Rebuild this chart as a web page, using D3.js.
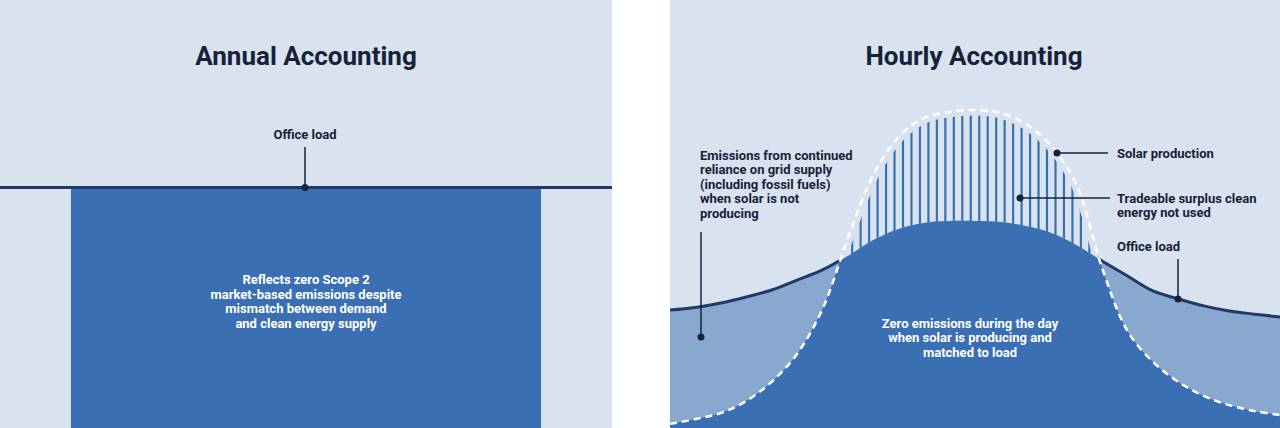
<!DOCTYPE html>
<html><head><meta charset="utf-8">
<script src="https://cdn.jsdelivr.net/npm/d3@7"></script>
<style>
body{margin:0;background:#fff}
svg{display:block}
text{font-family:Roboto,"Open Sans",sans-serif;font-weight:700}
</style>
</head><body>
<svg id="chart" width="1280" height="428"></svg>
<script>
// ---- data ----
const panelTitles = ["Annual Accounting", "Hourly Accounting"];
const annualCategories = ["Year"];
const annualLoad = [75.6];
const hours = d3.range(0, 25);
const solarProduction = [1.3, 2.8, 4.7, 8.5, 14.5, 23.3, 37.4, 59.7, 79.6, 91.5, 97.5, 99.4, 100,
  99.1, 95.6, 88.7, 76.4, 50.3, 30.5, 20.8, 14.5, 10.1, 7.2, 5.3, 4.1];
const officeLoad = [37.1, 37.9, 39.3, 41.2, 43.4, 46.5, 49.7, 54.1, 59.1, 62.6, 64.5, 65.1, 65.1,
  64.8, 63.5, 61.3, 57.5, 52.5, 47.8, 43.1, 40.6, 38.4, 36.8, 35.8, 34.9];
const annualLoadLabel = ["Office load"];
const annualNote = ["Reflects zero Scope 2", "market-based emissions despite", "mismatch between demand", "and clean energy supply"];
const gridNote = ["Emissions from continued", "reliance on grid supply", "(including fossil fuels)", "when solar is not", "producing"];
const solarLabel = ["Solar production"];
const surplusLabel = ["Tradeable surplus clean", "energy not used"];
const hourlyLoadLabel = ["Office load"];
const zeroNote = ["Zero emissions during the day", "when solar is producing and", "matched to load"];

// ---- style ----
const BG = "#d8e3ef", DARK = "#3a70b3", MID = "#88a8d0", NAVY = "#1f3a68", INK = "#17213a";
const H = 428;
const svg = d3.select("#chart");

const y = d3.scaleLinear().domain([0, 100]).range([H, 110]);

// ---------- left panel ----------
const L = svg.append("g");
const xL = d3.scaleBand().domain(annualCategories).range([0, 612]).paddingOuter(0.151).paddingInner(0);
L.append("rect").attr("x", 0).attr("y", 0).attr("width", 612).attr("height", H).attr("fill", BG);
L.selectAll("rect.bar").data(annualCategories).join("rect").attr("class", "bar")
  .attr("x", d => xL(d)).attr("width", xL.bandwidth())
  .attr("y", (d, i) => y(annualLoad[i])).attr("height", (d, i) => H - y(annualLoad[i]))
  .attr("fill", DARK);
L.append("line").attr("x1", 0).attr("x2", 612).attr("y1", y(annualLoad[0])).attr("y2", y(annualLoad[0]))
  .attr("stroke", NAVY).attr("stroke-width", 3);
L.append("text").attr("x", 306).attr("y", 65).attr("text-anchor", "middle").attr("font-size", 26)
  .attr("fill", INK).text(panelTitles[0]);
L.append("text").attr("x", 305).attr("y", 139).attr("text-anchor", "middle").attr("font-size", 13)
  .attr("fill", INK).text(annualLoadLabel[0]);
L.append("line").attr("x1", 305).attr("x2", 305).attr("y1", 147).attr("y2", y(annualLoad[0]))
  .attr("stroke", INK).attr("stroke-width", 1.5);
L.append("circle").attr("cx", 305).attr("cy", y(annualLoad[0])).attr("r", 3.5).attr("fill", INK);
L.append("text").attr("text-anchor", "middle").attr("font-size", 13).attr("fill", "#fff")
  .selectAll("tspan").data(annualNote).join("tspan")
  .attr("x", 306).attr("y", (d, i) => 284 + i * 14.7).text(d => d);

// ---------- right panel ----------
const R = svg.append("g");
const x = d3.scaleLinear().domain([0, 24]).range([670, 1280]);
R.append("rect").attr("x", 670).attr("y", 0).attr("width", 610).attr("height", H).attr("fill", BG);

const curve = d3.curveCatmullRom.alpha(0.5);
const solarArea = d3.area().x((d, i) => x(hours[i])).y0(H).y1(d => y(d)).curve(curve);
const aboveSolar = d3.area().x((d, i) => x(hours[i])).y0(0).y1(d => y(d) + 1).curve(curve);
const solarLine = d3.line().x((d, i) => x(hours[i])).y(d => y(d)).curve(curve);
const loadArea = d3.area().x((d, i) => x(hours[i])).y0(H).y1(d => y(d)).curve(curve);
const loadLine = d3.line().x((d, i) => x(hours[i])).y(d => y(d)).curve(curve);

const defs = svg.append("defs");
defs.append("clipPath").attr("id", "solarClip").append("path").attr("d", solarArea(solarProduction));
defs.append("clipPath").attr("id", "aboveSolarClip").append("path").attr("d", aboveSolar(solarProduction));
defs.append("clipPath").attr("id", "loadClip").append("path").attr("d", loadArea(officeLoad));

// surplus stripes
const stripeHours = d3.range(6.5, 17.7, 1 / 3);
R.append("g").attr("clip-path", "url(#solarClip)")
  .selectAll("line").data(stripeHours).join("line")
  .attr("x1", d => x(d)).attr("x2", d => x(d)).attr("y1", 0).attr("y2", H)
  .attr("stroke", DARK).attr("stroke-width", 2.2);
// gap between stripes and solar outline
R.append("path").attr("d", solarLine(solarProduction)).attr("fill", "none")
  .attr("stroke", BG).attr("stroke-width", 11);

// grid-supplied load
R.append("path").attr("d", loadArea(officeLoad)).attr("fill", MID);
// solar matched to load
R.append("path").attr("d", solarArea(solarProduction)).attr("clip-path", "url(#loadClip)").attr("fill", DARK);
// load outline only where grid supplies it
R.append("path").attr("d", loadLine(officeLoad)).attr("clip-path", "url(#aboveSolarClip)")
  .attr("fill", "none").attr("stroke", NAVY).attr("stroke-width", 3);
R.append("path").attr("d", solarLine(solarProduction)).attr("fill", "none").attr("stroke", "#fff")
  .attr("stroke-width", 2.5).attr("stroke-dasharray", "7 5");

R.append("text").attr("x", 974).attr("y", 65).attr("text-anchor", "middle").attr("font-size", 26)
  .attr("fill", INK).text(panelTitles[1]);

function lines(g, arr, x0, y0, anchor, color) {
  g.append("text").attr("text-anchor", anchor).attr("font-size", 13).attr("fill", color)
    .selectAll("tspan").data(arr).join("tspan")
    .attr("x", x0).attr("y", (d, i) => y0 + i * 14.4).text(d => d);
}
lines(R, gridNote, 700, 160, "start", INK);
R.append("line").attr("x1", 701).attr("x2", 701).attr("y1", 232).attr("y2", 337).attr("stroke", INK).attr("stroke-width", 1.5);
R.append("circle").attr("cx", 701).attr("cy", 337).attr("r", 3.5).attr("fill", INK);

lines(R, solarLabel, 1117, 158, "start", INK);
R.append("line").attr("x1", 1057).attr("x2", 1108).attr("y1", 153).attr("y2", 153).attr("stroke", INK).attr("stroke-width", 1.5);
R.append("circle").attr("cx", 1057).attr("cy", 153).attr("r", 3.5).attr("fill", INK);

lines(R, surplusLabel, 1117, 203, "start", INK);
R.append("line").attr("x1", 1020).attr("x2", 1110).attr("y1", 198).attr("y2", 198).attr("stroke", INK).attr("stroke-width", 1.5);
R.append("circle").attr("cx", 1020).attr("cy", 198).attr("r", 3.5).attr("fill", INK);

lines(R, hourlyLoadLabel, 1117, 251, "start", INK);
R.append("line").attr("x1", 1178).attr("x2", 1178).attr("y1", 259).attr("y2", 299).attr("stroke", INK).attr("stroke-width", 1.5);
R.append("circle").attr("cx", 1178).attr("cy", 299).attr("r", 3.5).attr("fill", INK);

lines(R, zeroNote, 970, 328, "middle", "#fff");
</script>
</body></html>
